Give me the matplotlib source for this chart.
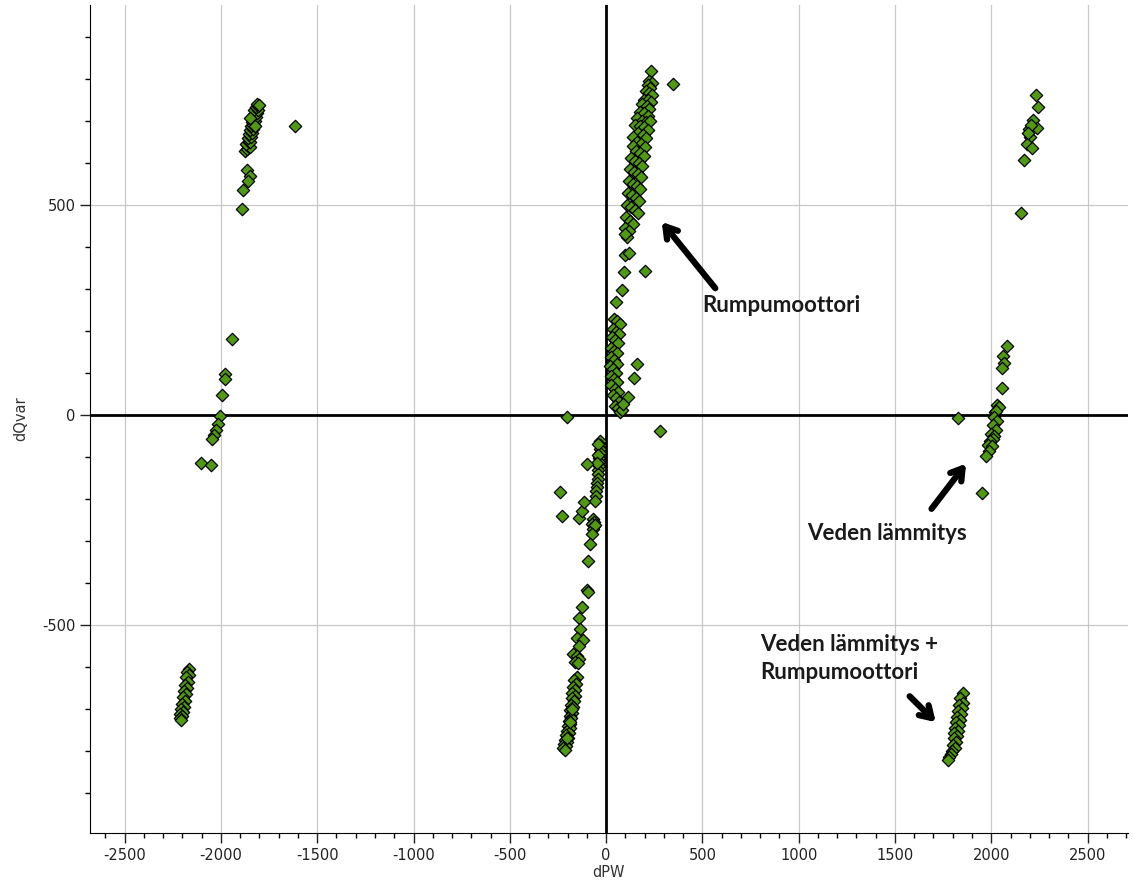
import numpy as np
import matplotlib
matplotlib.use("Agg")
import matplotlib.pyplot as plt
from matplotlib.ticker import MultipleLocator

plt.rcParams['axes.unicode_minus'] = False

# dPW / dQvar points, grouped by cluster
upper_left = [(-1873, 628), (-1865, 632), (-1858, 640), (-1850, 636), (-1868, 645), (-1855, 650),
              (-1847, 648), (-1860, 658), (-1842, 660), (-1852, 667), (-1838, 670), (-1848, 678),
              (-1832, 680), (-1845, 688), (-1828, 690), (-1840, 697), (-1825, 700), (-1836, 706),
              (-1820, 709), (-1830, 715), (-1815, 718), (-1826, 724), (-1810, 726), (-1820, 732),
              (-1805, 735), (-1812, 740), (-1800, 738), (-1835, 690), (-1850, 705), (-1822, 688),
              (-1615, 688), (-1867, 583), (-1847, 569), (-1857, 557), (-1883, 535), (-1890, 490)]

mid_left = [(-1945, 181), (-1981, 98), (-1981, 86), (-1992, 48), (-2007, -2), (-2013, -21),
            (-2023, -36), (-2038, -48), (-2044, -57), (-2106, -114), (-2049, -119)]

low_left = [(-2168, -605), (-2175, -612), (-2165, -620), (-2180, -625), (-2172, -635), (-2185, -642),
            (-2178, -650), (-2190, -658), (-2182, -665), (-2195, -672), (-2188, -680), (-2200, -688),
            (-2192, -695), (-2205, -700), (-2197, -706), (-2210, -712), (-2202, -716), (-2212, -722),
            (-2206, -726)]

center_low = [(-30, -62), (-32, -72), (-34, -82), (-33, -92), (-36, -102), (-35, -112), (-38, -122),
              (-40, -132), (-42, -142), (-44, -152), (-46, -162), (-48, -172), (-50, -182), (-54, -194),
              (-57, -205), (-40, -70), (-42, -95), (-45, -115),
              (-99, -116), (-239, -183), (-228, -240), (-140, -245), (-124, -228), (-114, -207), (-202, -5),
              (-67, -247), (-62, -255), (-72, -260), (-65, -265), (-70, -271), (-60, -262), (-73, -283),
              (-83, -307), (-93, -348), (-99, -417), (-93, -421), (-124, -457), (-140, -483), (-135, -510),
              (-150, -532), (-119, -535), (-140, -550), (-171, -570), (-150, -575), (-140, -582),
              (-160, -587), (-145, -590),
              (-150, -625), (-165, -632), (-155, -640), (-170, -648), (-160, -655), (-175, -662),
              (-163, -668), (-178, -675), (-168, -682), (-182, -690), (-172, -696), (-186, -703),
              (-176, -710), (-190, -716), (-181, -722), (-195, -728), (-185, -735), (-199, -740),
              (-189, -746), (-204, -752), (-194, -758), (-208, -763), (-198, -768), (-212, -773),
              (-203, -778), (-216, -783), (-208, -788), (-222, -792), (-215, -797), (-175, -700),
              (-185, -730), (-205, -770)]

center_high = [(233, 817), (225, 795), (238, 790), (215, 785), (230, 778), (205, 770), (225, 765),
               (240, 760), (195, 750), (215, 748), (232, 745), (185, 740), (210, 735), (225, 728),
               (175, 720), (195, 718), (218, 712), (160, 705), (185, 700), (205, 696), (228, 700),
               (150, 690), (175, 688), (198, 684), (215, 678), (168, 670), (190, 665), (142, 660),
               (208, 658), (160, 650), (182, 645), (138, 640), (200, 636), (155, 628), (176, 622),
               (195, 615), (130, 612), (150, 605), (170, 598), (188, 592), (125, 585), (145, 578),
               (165, 572), (182, 565), (120, 556), (140, 550), (160, 545), (178, 538), (115, 528),
               (135, 522), (155, 515), (172, 508), (110, 500), (128, 494), (148, 488), (165, 480),
               (105, 470), (122, 462), (140, 455), (100, 445), (118, 438), (109, 423), (99, 430),
               (347, 786),
               (99, 380), (119, 385), (93, 339), (83, 296), (52, 269), (202, 341),
               (40, 228), (55, 222), (70, 215), (35, 205), (50, 198), (65, 192), (30, 185), (45, 178),
               (60, 170), (28, 160), (42, 152), (58, 146), (25, 138), (40, 130), (55, 122), (22, 115),
               (38, 108), (52, 100), (24, 92), (40, 85), (55, 78), (28, 70), (44, 62), (60, 55),
               (35, 48), (50, 40), (65, 30), (45, 20), (60, 15), (73, 7), (80, 12),
               (161, 120), (145, 87), (114, 43), (88, 26), (280, -38)]

mid_right = [(2080, 163), (2059, 139), (2064, 123), (2054, 111), (2054, 63), (2028, 24), (2038, 19),
             (2018, 7), (2025, 10), (2015, -5), (2030, -15), (2010, -25), (2022, -35), (2000, -45),
             (2012, -50), (2007, -57), (1995, -62), (1981, -71), (2005, -75), (1986, -87),
             (1971, -99), (1950, -186), (1826, -7)]

upper_right = [(2230, 760), (2241, 733), (2215, 702), (2194, 680), (2236, 683), (2199, 661),
               (2184, 644), (2210, 635), (2168, 606), (2153, 481), (2205, 690), (2190, 670)]

low_right = [(1852, -663), (1840, -675), (1855, -685), (1830, -690), (1848, -698), (1825, -705),
             (1842, -712), (1820, -718), (1838, -725), (1815, -730), (1832, -738), (1812, -745),
             (1828, -752), (1808, -758), (1824, -764), (1805, -770), (1818, -778), (1800, -785),
             (1812, -792), (1795, -800), (1790, -808), (1780, -815), (1774, -821)]

clusters = [upper_left, mid_left, low_left, center_low, center_high, mid_right, upper_right, low_right]

# annotation texts: (text, text position, arrow tail, arrow head)
notes = [("Rumpumoottori", (908, 260), (576, 296), (280, 464)),
         ("Veden lämmitys", (1458, -283), (1681, -229), (1878, -111))]
note3_lines = ["Veden lämmitys +", "Rumpumoottori"]

fig = plt.figure(figsize=(11.33, 8.93), dpi=100)
ax = fig.add_axes([0.0794, 0.0672, 0.9162, 0.9272])

pts = np.array([p for c in clusters for p in c])
ax.scatter(pts[:, 0], pts[:, 1], marker='D', s=40, facecolor='#4f9a12',
           edgecolor='black', linewidth=0.9, zorder=3)

ax.axhline(0, color='black', linewidth=2, zorder=2)
ax.axvline(0, color='black', linewidth=2, zorder=2)

ax.set_xlim(-2680, 2710)
ax.set_ylim(-995, 975)
ax.xaxis.set_major_locator(MultipleLocator(500))
ax.xaxis.set_minor_locator(MultipleLocator(100))
ax.yaxis.set_major_locator(MultipleLocator(500))
ax.yaxis.set_minor_locator(MultipleLocator(100))
ax.grid(which='major', color='#c8c8c8', linewidth=0.9, zorder=1)
ax.tick_params(which='major', direction='out', length=7, width=1, labelsize=10.5, colors='#222222')
ax.tick_params(which='minor', direction='out', length=3.5, width=1)
for s in ['top', 'right']:
    ax.spines[s].set_visible(False)

ax.set_xlabel('dPW', fontsize=10.5, color='#333333', labelpad=2)
ax.set_ylabel('dQvar', fontsize=10.5, color='#333333', labelpad=10)

txt_style = dict(fontsize=16, fontweight='bold', family='Lato', color='#1a1a1a')
arrow = dict(arrowstyle='->, head_length=0.8, head_width=0.5', lw=4.5, color='black')
for txt, pos, tail, head in notes:
    ax.text(pos[0], pos[1], txt, ha='center', va='center', **txt_style)
    ax.annotate('', xy=head, xytext=tail, arrowprops=arrow)

ax.text(799, -547, note3_lines[0], ha='left', va='center', **txt_style)
ax.text(799, -613, note3_lines[1], ha='left', va='center', **txt_style)
ax.annotate('', xy=(1722, -736), xytext=(1566, -665), arrowprops=arrow)

fig.savefig('out.png', dpi=100)
